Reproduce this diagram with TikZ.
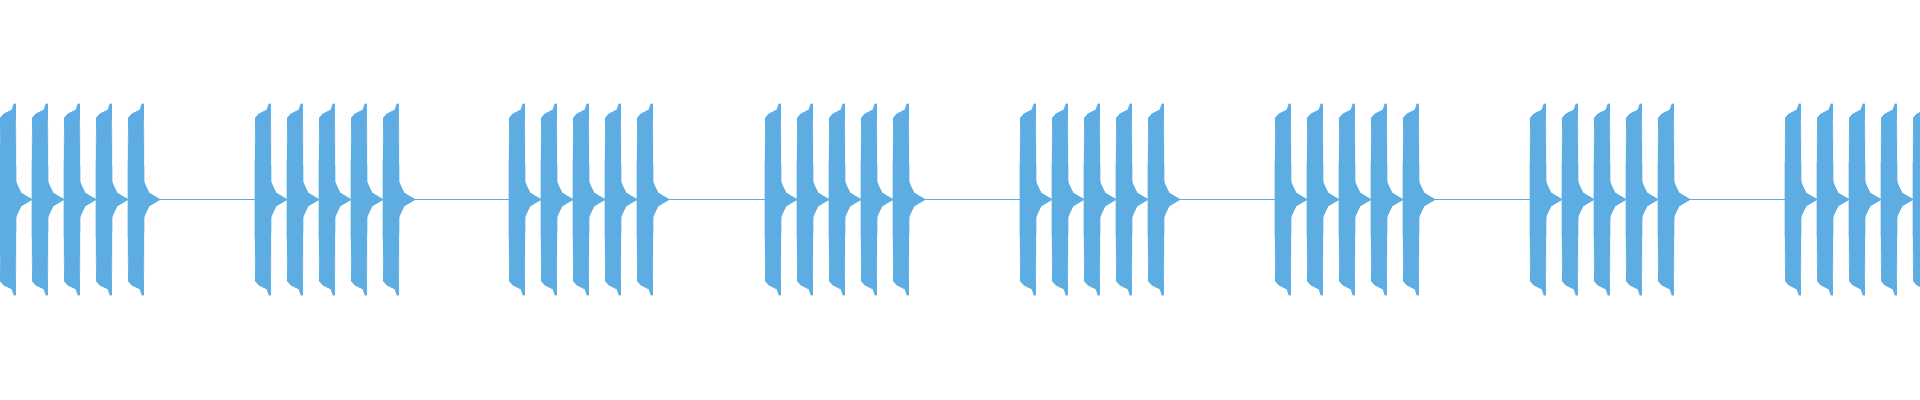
\documentclass[tikz,border=0pt]{standalone}
\definecolor{wave}{RGB}{93,173,226}
\begin{document}
\begin{tikzpicture}[x=0.01cm,y=-0.01cm,burst/.style={fill=wave,draw=wave,line width=0.2pt}]
\useasboundingbox (0,0) rectangle (1920,400);
\draw[wave,line width=0.01cm] (0,199.5) -- (1920,199.5);
\foreach \g in {0,255,509,765,1020,1275,1530,1785}{
  \foreach \b in {0,32,64,96,128}{
    \pgfmathsetmacro{\x}{\g+\b}
    \ifdim\x pt<1921pt
    \begin{scope}[shift={(\x,0)}]
      \fill[burst] (0,172) -- (0.5,118) -- (4,114) -- (8,112) -- (12,110) -- (14,104) -- (15.5,104)
        -- (16,182) -- (18,187) -- (21,193) -- (26,196) -- (32,199.5)
        -- (26,203) -- (21,206) -- (18,212) -- (16,217) -- (15.5,295) -- (14,295) -- (12,289)
        -- (8,287) -- (4,285) -- (0.5,281) -- (0,227) -- cycle;
    \end{scope}
    \fi
  }
}
\end{tikzpicture}
\end{document}
